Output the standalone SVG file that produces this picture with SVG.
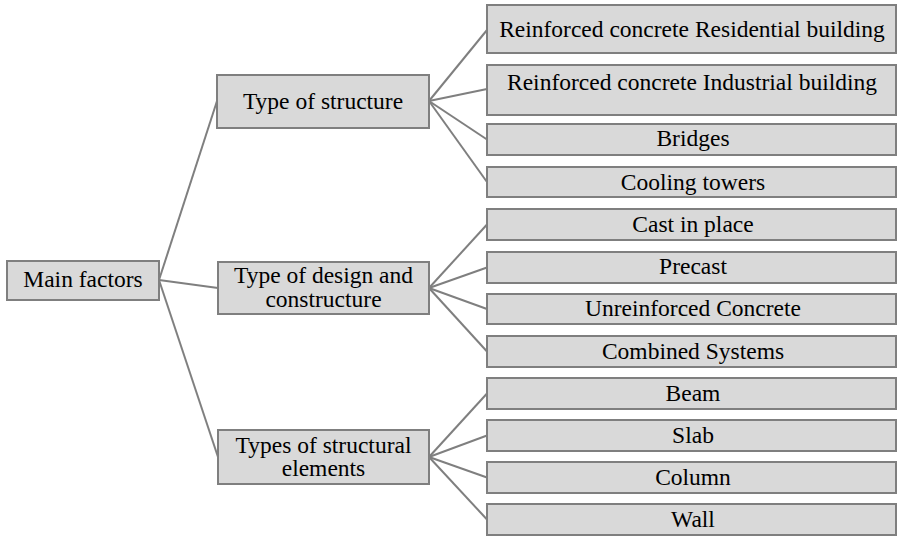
<svg xmlns="http://www.w3.org/2000/svg" width="899" height="536" viewBox="0 0 899 536">
<style>
.box{fill:#d9d9d9;stroke:#7f7f7f;stroke-width:2}
text{font-family:'Liberation Serif',serif;font-size:23.5px;fill:#000;text-anchor:middle}
.con line{stroke:#7f7f7f;stroke-width:2}
</style>
<rect width="899" height="536" fill="#fff"/>
<g class="con" id="connectors">
<line x1="159" y1="280" x2="217" y2="101"/>
<line x1="159" y1="280" x2="218" y2="288"/>
<line x1="159" y1="280" x2="218" y2="457"/>
<line x1="429" y1="101" x2="487" y2="30"/>
<line x1="429" y1="101" x2="487" y2="89"/>
<line x1="429" y1="101" x2="487" y2="139.5"/>
<line x1="429" y1="101" x2="487" y2="182"/>
<line x1="429" y1="288" x2="487" y2="224.5"/>
<line x1="429" y1="288" x2="487" y2="267.5"/>
<line x1="429" y1="288" x2="487" y2="309"/>
<line x1="429" y1="288" x2="487" y2="351.5"/>
<line x1="429" y1="457" x2="487" y2="393.5"/>
<line x1="429" y1="457" x2="487" y2="435.5"/>
<line x1="429" y1="457" x2="487" y2="477.5"/>
<line x1="429" y1="457" x2="487" y2="519.5"/>
</g>
<g id="main"><rect class="box" x="7" y="261" width="152" height="39"/><text x="83" y="287">Main factors</text></g>
<g id="tos"><rect class="box" x="217" y="75" width="212" height="53"/><text x="323" y="109">Type of structure</text></g>
<g id="tod"><rect class="box" x="218" y="262" width="211" height="52"/><text x="323.5" y="283">Type of design and</text><text x="323.5" y="306.5">constructure</text></g>
<g id="tse"><rect class="box" x="218" y="430" width="211" height="54"/><text x="323.5" y="452.5">Types of structural</text><text x="323.5" y="476">elements</text></g>
<g id="res"><rect class="box" x="487" y="5" width="409" height="48"/><text x="692" y="37">Reinforced concrete Residential building</text></g>
<g id="ind"><rect class="box" x="487" y="65" width="409" height="50"/><text x="692" y="90">Reinforced concrete Industrial building</text></g>
<g id="bridges"><rect class="box" x="487" y="124" width="409" height="31"/><text x="693" y="146">Bridges</text></g>
<g id="cooling"><rect class="box" x="487" y="167" width="409" height="30"/><text x="693" y="190">Cooling towers</text></g>
<g id="cast"><rect class="box" x="487" y="209" width="409" height="31"/><text x="693" y="231.5">Cast in place</text></g>
<g id="precast"><rect class="box" x="487" y="252" width="409" height="31"/><text x="693" y="273.5">Precast</text></g>
<g id="unreinf"><rect class="box" x="487" y="294" width="409" height="30"/><text x="693" y="316">Unreinforced Concrete</text></g>
<g id="combined"><rect class="box" x="487" y="336" width="409" height="31"/><text x="693" y="358.5">Combined Systems</text></g>
<g id="beam"><rect class="box" x="487" y="378" width="409" height="31"/><text x="693" y="400.5">Beam</text></g>
<g id="slab"><rect class="box" x="487" y="420" width="409" height="31"/><text x="693" y="442.5">Slab</text></g>
<g id="column"><rect class="box" x="487" y="462" width="409" height="31"/><text x="693" y="485">Column</text></g>
<g id="wall"><rect class="box" x="487" y="504" width="409" height="31"/><text x="693" y="527">Wall</text></g>
</svg>
